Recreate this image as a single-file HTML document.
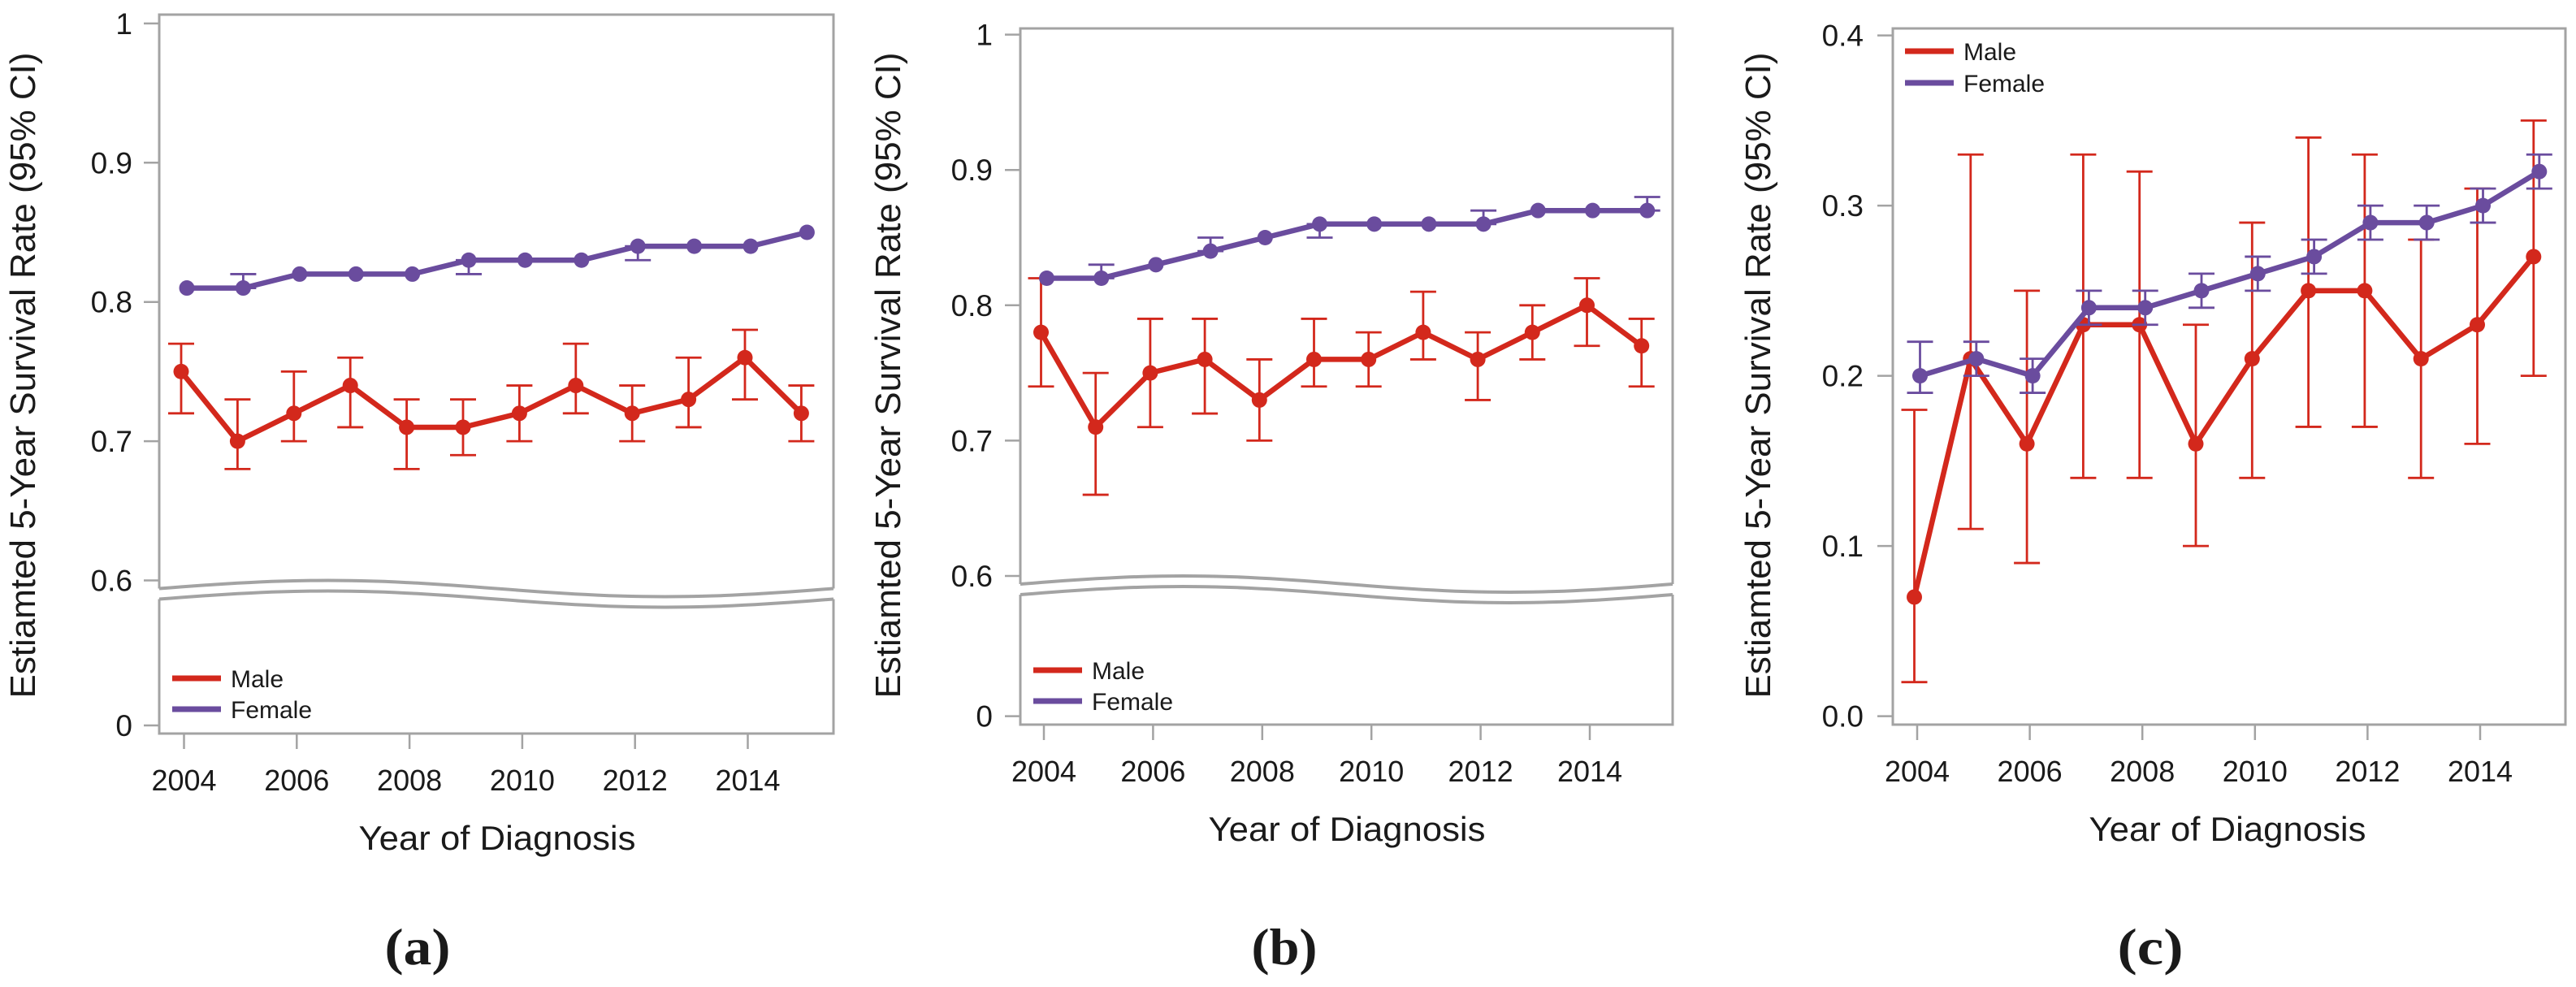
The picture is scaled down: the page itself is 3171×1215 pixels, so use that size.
<!DOCTYPE html>
<html><head><meta charset="utf-8">
<style>
html,body{margin:0;padding:0;background:#fff;}
svg{display:block;}
text{font-family:"Liberation Sans",sans-serif;fill:#1a1a1a;}
.serif{font-family:"Liberation Serif",serif;font-weight:bold;}
</style></head>
<body>
<svg id="fig" width="3171" height="1215" viewBox="0 0 3171 1215" xmlns="http://www.w3.org/2000/svg"></svg>
<script>
// ---- shared data ----
const years = [2004,2005,2006,2007,2008,2009,2010,2011,2012,2013,2014,2015];
const xTickLabels = [2004,2006,2008,2010,2012,2014];
const legendLabels = ["Male","Female"];

// Panel (a)
const aMale      = [0.75,0.70,0.72,0.74,0.71,0.71,0.72,0.74,0.72,0.73,0.76,0.72];
const aMaleLo    = [0.72,0.68,0.70,0.71,0.68,0.69,0.70,0.72,0.70,0.71,0.73,0.70];
const aMaleHi    = [0.77,0.73,0.75,0.76,0.73,0.73,0.74,0.77,0.74,0.76,0.78,0.74];
const aFemale    = [0.81,0.81,0.82,0.82,0.82,0.83,0.83,0.83,0.84,0.84,0.84,0.85];
const aFemaleLo  = [0.81,0.81,0.82,0.82,0.82,0.82,0.83,0.83,0.83,0.84,0.84,0.85];
const aFemaleHi  = [0.81,0.82,0.82,0.82,0.82,0.83,0.83,0.83,0.84,0.84,0.84,0.85];
const aYTicks = [0.6,0.7,0.8,0.9,1];
const aYTickLabels = ["0.6","0.7","0.8","0.9","1"];

// Panel (b)
const bMale      = [0.78,0.71,0.75,0.76,0.73,0.76,0.76,0.78,0.76,0.78,0.80,0.77];
const bMaleLo    = [0.74,0.66,0.71,0.72,0.70,0.74,0.74,0.76,0.73,0.76,0.77,0.74];
const bMaleHi    = [0.82,0.75,0.79,0.79,0.76,0.79,0.78,0.81,0.78,0.80,0.82,0.79];
const bFemale    = [0.82,0.82,0.83,0.84,0.85,0.86,0.86,0.86,0.86,0.87,0.87,0.87];
const bFemaleLo  = [0.82,0.82,0.83,0.84,0.85,0.85,0.86,0.86,0.86,0.87,0.87,0.87];
const bFemaleHi  = [0.82,0.83,0.83,0.85,0.85,0.86,0.86,0.86,0.87,0.87,0.87,0.88];
const bYTicks = [0.6,0.7,0.8,0.9,1];
const bYTickLabels = ["0.6","0.7","0.8","0.9","1"];

// Panel (c)
const cMale      = [0.07,0.21,0.16,0.23,0.23,0.16,0.21,0.25,0.25,0.21,0.23,0.27];
const cMaleLo    = [0.02,0.11,0.09,0.14,0.14,0.10,0.14,0.17,0.17,0.14,0.16,0.20];
const cMaleHi    = [0.18,0.33,0.25,0.33,0.32,0.23,0.29,0.34,0.33,0.28,0.31,0.35];
const cFemale    = [0.20,0.21,0.20,0.24,0.24,0.25,0.26,0.27,0.29,0.29,0.30,0.32];
const cFemaleLo  = [0.19,0.20,0.19,0.23,0.23,0.24,0.25,0.26,0.28,0.28,0.29,0.31];
const cFemaleHi  = [0.22,0.22,0.21,0.25,0.25,0.26,0.27,0.28,0.30,0.30,0.31,0.33];
const cYTicks = [0.0,0.1,0.2,0.3,0.4];
const cYTickLabels = ["0.0","0.1","0.2","0.3","0.4"];

const RED = "#d3281c", PURPLE = "#6a4c9e", GRAY = "#a3a3a3";
const NS = "http://www.w3.org/2000/svg";
const svg = document.getElementById("fig");
function mk(tag, attrs, parent){
  const e = document.createElementNS(NS, tag);
  for (const k in attrs) e.setAttribute(k, attrs[k]);
  (parent||svg).appendChild(e);
  return e;
}

const panels = [
  {id:"a", male:aMale, mLo:aMaleLo, mHi:aMaleHi, fem:aFemale, fLo:aFemaleLo, fHi:aFemaleHi,
   yTicks:aYTicks, yLabels:aYTickLabels, brk:true,
   box:{l:196,r:1026,t:18,b:903}, y0px:714.5, y0v:0.6, pxPerUnit:1714, zeroY:893,
   x2004:226.5, pxYear:69.4, legend:{x:212,y1:835,y2:873}, yTitleX:27, xTitleX:612, tagX:514, tickRight:163},
  {id:"b", male:bMale, mLo:bMaleLo, mHi:bMaleHi, fem:bFemale, fLo:bFemaleLo, fHi:bFemaleHi,
   yTicks:bYTicks, yLabels:bYTickLabels, brk:true,
   box:{l:1256,r:2059,t:35,b:892}, y0px:709, y0v:0.6, pxPerUnit:1666, zeroY:881.6,
   x2004:1285, pxYear:67.2, legend:{x:1272,y1:825,y2:863}, yTitleX:1092, xTitleX:1658, tagX:1581, tickRight:1222},
  {id:"c", male:cMale, mLo:cMaleLo, mHi:cMaleHi, fem:cFemale, fLo:cFemaleLo, fHi:cFemaleHi,
   yTicks:cYTicks, yLabels:cYTickLabels, brk:false,
   box:{l:2330,r:3158,t:35,b:892}, y0px:881.6, y0v:0.0, pxPerUnit:2095, zeroY:null,
   x2004:2360, pxYear:69.3, legend:{x:2345,y1:63,y2:102}, yTitleX:2163, xTitleX:2742, tagX:2647, tickRight:2294}
];

panels.forEach(p => {
  const g = mk("g", {});
  
  
  const yScale = v => p.y0px - (v - p.y0v) * p.pxPerUnit;
  const xScale = yr => p.x2004 + (yr - 2004) * p.pxYear;
  const B = p.box;

  // frame
  if (p.brk) {
    const amp = 10, mid = p.y0px + 10, w = B.r - B.l;
    let up = "", lo = "";
    for (let i = 0; i <= 60; i++) {
      const x = B.l + w * i / 60;
      const y = mid - amp * Math.sin(2 * Math.PI * i / 60);
      up += (i ? "L" : "M") + x.toFixed(1) + " " + y.toFixed(1) + " ";
      lo += (i ? "L" : "M") + x.toFixed(1) + " " + (y + 13).toFixed(1) + " ";
    }
    const frameTop = mk("path", {d:`M${B.l} ${mid} L${B.l} ${B.t} L${B.r} ${B.t} L${B.r} ${mid}`, fill:"none", stroke:GRAY, "stroke-width":3}, g);
    
    
    const frameBot = mk("path", {d:`M${B.l} ${mid+13} L${B.l} ${B.b} L${B.r} ${B.b} L${B.r} ${mid+13}`, fill:"none", stroke:GRAY, "stroke-width":3}, g);
    
    
    const w1 = mk("path", {d:up, fill:"none", stroke:GRAY, "stroke-width":4}, g);
    
    
    const w2 = mk("path", {d:lo, fill:"none", stroke:GRAY, "stroke-width":4}, g);
    
    
  } else {
    const fr = mk("rect", {x:B.l, y:B.t, width:B.r-B.l, height:B.b-B.t, fill:"none", stroke:GRAY, "stroke-width":3}, g);
    
    
  }

  // y ticks
  const yt = [...p.yTicks], yl = [...p.yLabels];
  if (p.zeroY !== null) { yt.unshift(null); yl.unshift("0"); }
  yt.forEach((v, i) => {
    const y = v === null ? p.zeroY : yScale(v);
    const t = mk("line", {x1:B.l-19, x2:B.l, y1:y, y2:y, stroke:GRAY, "stroke-width":2.5}, g);
    
    
    const tx = mk("text", {x:p.tickRight, y:y+13, "font-size":37, "text-anchor":"end"}, g);
    
    
    tx.textContent = yl[i];
  });

  // x ticks
  xTickLabels.forEach(yr => {
    const x = xScale(yr);
    const t = mk("line", {x1:x, x2:x, y1:B.b, y2:B.b+19, stroke:GRAY, "stroke-width":2.5}, g);
    
    
    const tx = mk("text", {x:x, y:B.b+70, "font-size":36, "text-anchor":"middle"}, g);
    
    
    tx.textContent = yr;
  });

  // titles
  const xt = mk("text", {x:p.xTitleX, y:B.b+143, "font-size":42, "text-anchor":"middle", textLength:341, lengthAdjust:"spacingAndGlyphs"}, g);
  
  
  xt.textContent = "Year of Diagnosis";
  const ytl = mk("text", {x:0, y:0, "font-size":44, "text-anchor":"middle", textLength:795, lengthAdjust:"spacingAndGlyphs", transform:`translate(${p.yTitleX+16},462) rotate(-90)`}, g);
  
  
  ytl.textContent = "Estiamted 5-Year Survival Rate (95% CI)";
  const tag = mk("text", {x:p.tagX, y:1187, "font-size":64, "text-anchor":"middle", class:"serif", textLength:81, lengthAdjust:"spacingAndGlyphs"}, g);
  
  
  tag.textContent = "(" + p.id + ")";

  // series
  const series = [
    {name:"male", v:p.male, lo:p.mLo, hi:p.mHi, col:RED, off:-3.5},
    {name:"female", v:p.fem, lo:p.fLo, hi:p.fHi, col:PURPLE, off:3.5}
  ];
  series.forEach(s => {
    const sg = mk("g", {}, g);
    
    
    years.forEach((yr, i) => {
      const x = xScale(yr) + s.off;
      if (s.hi[i] - s.lo[i] < 0.001) return;
      const e = mk("path", {d:`M${x} ${yScale(s.lo[i])} L${x} ${yScale(s.hi[i])} M${x-16} ${yScale(s.lo[i])} L${x+16} ${yScale(s.lo[i])} M${x-16} ${yScale(s.hi[i])} L${x+16} ${yScale(s.hi[i])}`, fill:"none", stroke:s.col, "stroke-width":2.8}, sg);
      
      
    });
    const pts = years.map((yr, i) => (xScale(yr)+s.off).toFixed(1) + "," + yScale(s.v[i]).toFixed(1)).join(" ");
    const line = mk("polyline", {points:pts, fill:"none", stroke:s.col, "stroke-width":6.5, "stroke-linejoin":"round"}, sg);
    
    
    years.forEach((yr, i) => {
      const c = mk("circle", {cx:xScale(yr)+s.off, cy:yScale(s.v[i]), r:9.5, fill:s.col}, sg);
      
      
    });
  });

  // legend
  const L = p.legend;
  [[legendLabels[0], RED, L.y1], [legendLabels[1], PURPLE, L.y2]].forEach(([lab, col, y]) => {
    const lg = mk("g", {}, g);
    
    
    mk("line", {x1:L.x, x2:L.x+60, y1:y, y2:y, stroke:col, "stroke-width":7}, lg);
    const t = mk("text", {x:L.x+72, y:y+11, "font-size":30}, lg);
    t.textContent = lab;
  });
});
</script>
</body></html>
